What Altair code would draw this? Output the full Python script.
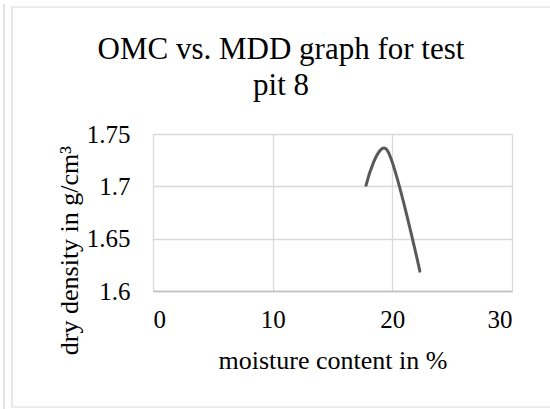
import altair as alt
import pandas as pd

# ---- data ----
moisture = [17.8, 19.6, 22.3]
dry_density = [1.701, 1.734, 1.619]
x_ticks = [0, 10, 20, 30]
y_ticks = [1.6, 1.65, 1.7, 1.75]
title_lines = ["OMC vs. MDD graph for test", "pit 8"]
x_title = "moisture content in %"
y_title = "dry density in g/cm³"

df = pd.DataFrame({"moisture": moisture, "density": dry_density})

FONT = "Liberation Serif"
W, H = 359, 157          # plot area
PL, PT = 153, 134        # plot origin in the page
GRID = "#d9d9d9"

line = alt.Chart(df).mark_line(
    interpolate="cardinal", color="#595959", strokeWidth=3, strokeCap="round"
).encode(
    x=alt.X("moisture:Q",
            scale=alt.Scale(domain=[0, 30], nice=False, zero=False),
            axis=alt.Axis(values=x_ticks, title=x_title, format="d",
                          grid=True, gridColor=GRID, gridWidth=1.3,
                          domain=True, domainColor="#bfbfbf", domainWidth=1.3,
                          ticks=False, labelPadding=16,
                          labelFontSize=25, labelColor="#000000",
                          labelFont=FONT, titleFont=FONT,
                          titleFontSize=26, titleFontWeight="normal",
                          titleColor="#000000",
                          titleBaseline="alphabetic", titleY=77,
                          titleAnchor="middle")),
    y=alt.Y("density:Q",
            scale=alt.Scale(domain=[1.6, 1.75], nice=False, zero=False),
            axis=alt.Axis(values=y_ticks, title=y_title, format="~g",
                          grid=True, gridColor=GRID, gridWidth=1.3,
                          domain=False, ticks=False, labelPadding=23,
                          labelFontSize=25, labelColor="#000000",
                          labelFont=FONT, titleFont=FONT,
                          titleFontSize=26, titleFontWeight="normal",
                          titleColor="#000000",
                          titleBaseline="alphabetic", titleX=-76,
                          titleY=116, titleAngle=270)),
)

title1 = alt.Chart(pd.DataFrame({"t": [title_lines[0]]})).mark_text(
    font=FONT, fontSize=31, color="#000000", align="center", baseline="alphabetic"
).encode(text="t:N", x=alt.value(128), y=alt.value(-75))
title2 = alt.Chart(pd.DataFrame({"t": [title_lines[1]]})).mark_text(
    font=FONT, fontSize=31, color="#000000", align="center", baseline="alphabetic"
).encode(text="t:N", x=alt.value(128), y=alt.value(-39))

# chart frame (decoration)
frame = alt.Chart(pd.DataFrame({"k": [0]}))
f_top = frame.mark_rule(color=GRID, strokeWidth=1.2).encode(
    x=alt.value(-141), x2=alt.value(397), y=alt.value(-127))
f_bottom = frame.mark_rule(color=GRID, strokeWidth=1.2).encode(
    x=alt.value(-141), x2=alt.value(397), y=alt.value(273))
f_left = frame.mark_rule(color=GRID, strokeWidth=1.2).encode(
    x=alt.value(-141), y=alt.value(-127), y2=alt.value(273))
f_far = frame.mark_rule(color=GRID, strokeWidth=1.5).encode(
    x=alt.value(-149), y=alt.value(-130), y2=alt.value(275))

chart = alt.layer(line, title1, title2, f_top, f_bottom, f_left, f_far).properties(
    width=W, height=H,
    autosize=alt.AutoSizeParams(type="none"),
    padding={"left": PL, "top": PT, "right": 550 - PL - W, "bottom": 409 - PT - H},
    background="#ffffff",
).configure_view(stroke=None).configure(font=FONT)

chart.save("out.html", embed_options={"renderer": "svg", "actions": False})
